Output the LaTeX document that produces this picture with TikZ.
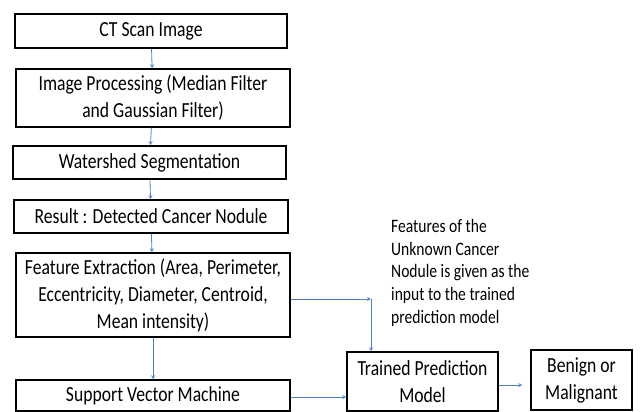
\documentclass[tikz,border=0pt]{standalone}
\usepackage{fontspec}
\setmainfont{Carlito}[FakeStretch=0.82]
\usepackage{tikz}
\usetikzlibrary{positioning}
\definecolor{arrowblue}{RGB}{79,129,189}

\begin{document}
\begin{tikzpicture}[x=1pt,y=-1pt,
        step box/.style = {draw, line width=1.5pt, align=center, inner sep=0pt, font=\fontsize{21.5}{27}\selectfont},
        flow/.style = {->, >=stealth, draw=arrowblue, line width=0.8pt},]
        \useasboundingbox (0,0) rectangle (640,412);
        \node[step box, minimum width=272pt, minimum height=34pt] (ct) at (151,31) {CT Scan Image};
        \node[step box, minimum width=274pt, minimum height=58pt] (proc) at (153,98) {Image Processing (Median Filter\\and Gaussian Filter)};
        \node[step box, minimum width=273pt, minimum height=33pt] (water) at (149.5,162.5) {Watershed Segmentation};
        \node[step box, minimum width=274pt, minimum height=33pt] (result) at (151,216.5) {Result : Detected Cancer Nodule};
        \node[step box, minimum width=274pt, minimum height=84pt] (feat) at (153,295) {Feature Extraction (Area, Perimeter,\\Eccentricity, Diameter, Centroid,\\Mean intensity)};
        \node[step box, minimum width=274pt, minimum height=31pt] (svm) at (153,395.5) {Support Vector Machine};
        \node[step box, minimum width=151pt, minimum height=59pt] (trained) at (422.5,381.5) {Trained Prediction\\Model};
        \node[step box, minimum width=101pt, minimum height=60pt] (benign) at (581.5,380) {Benign or\\Malignant};
        \node[anchor=north west, align=left, inner sep=0pt, font=\fontsize{19}{22.7}\selectfont] (note) at (391,219) {Features of the\\Unknown Cancer\\Nodule is given as the\\input to the trained\\prediction model};

        \coordinate (bend) at (371,299);
        \draw[flow] (ct) -- (proc);
        \draw[flow] (proc) -- (water);
        \draw[flow] (water) -- (result);
        \draw[flow] (result) -- (feat);
        \draw[flow] (feat) -- (svm);
        \draw[flow] (feat.east |- bend) -- (bend);
        \draw[flow] (bend) -- (bend |- trained.north);
        \draw[flow] (svm.east |- 0,397) -- (trained.west |- 0,397);
        \draw[flow] (trained.east |- 0,385) -- ([xshift=-8pt]benign.west |- 0,385);
    \end{tikzpicture}
\end{document}
